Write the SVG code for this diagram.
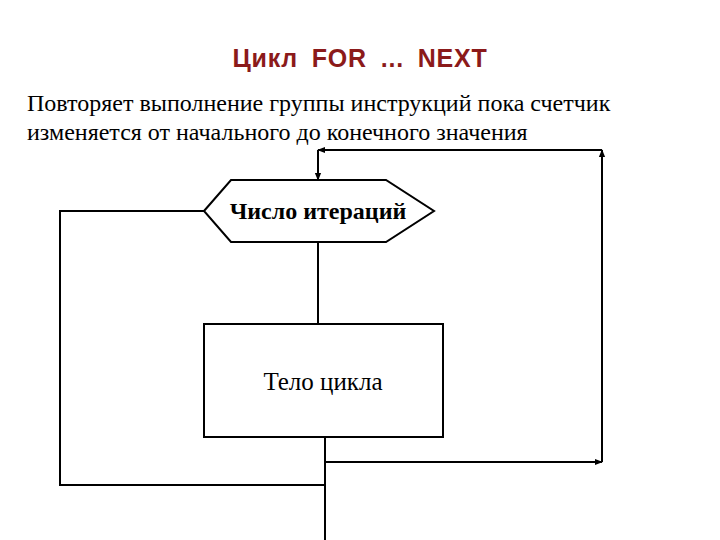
<svg xmlns="http://www.w3.org/2000/svg" width="720" height="540" viewBox="0 0 720 540">
<style>
.ln{fill:none;stroke:#000;stroke-width:2}
.t{font-family:"Liberation Serif",serif;font-size:24px;fill:#000}
</style>
<defs><marker id="a" viewBox="0 0 10 10" refX="9" refY="5" markerWidth="8" markerHeight="8" markerUnits="userSpaceOnUse" orient="auto"><path d="M0,1 L10,5 L0,9 z" fill="#000"/></marker></defs>
<rect width="720" height="540" fill="#fff"/>
<text x="360" y="67" text-anchor="middle" style="font-family:'Liberation Sans',sans-serif;font-size:25px;font-weight:bold;fill:#8b1a1a;word-spacing:6px;letter-spacing:0.8px">Цикл  FOR ... NEXT</text>
<text class="t" x="27" y="111">Повторяет выполнение группы инструкций пока счетчик</text>
<text class="t" x="27" y="140">изменяется от начального до конечного значения</text>
<g id="connectors">
<path class="ln" d="M318,150 V180" marker-end="url(#a)"/>
<path class="ln" d="M602,150 H318" marker-end="url(#a)"/>
<path class="ln" d="M602,462 V150" marker-end="url(#a)"/>
<path class="ln" d="M318,242 V324"/>
<path class="ln" d="M325,437 V540"/>
<path class="ln" d="M325,462 H602" marker-end="url(#a)"/>
<path class="ln" d="M325,485 H60 V211 H204"/>
</g>
<g id="iter">
<polygon class="ln" points="204,211 231,180 386,180 434,211 386,242 231,242" fill="#fff"/>
<text x="318" y="219" text-anchor="middle" style="font-family:'Liberation Serif',serif;font-size:24px;font-weight:bold">Число итераций</text>
</g>
<g id="body">
<rect class="ln" x="204" y="324" width="239" height="113" fill="#fff"/>
<text class="t" x="323" y="390" text-anchor="middle" style="font-size:25px">Тело цикла</text>
</g>
</svg>
